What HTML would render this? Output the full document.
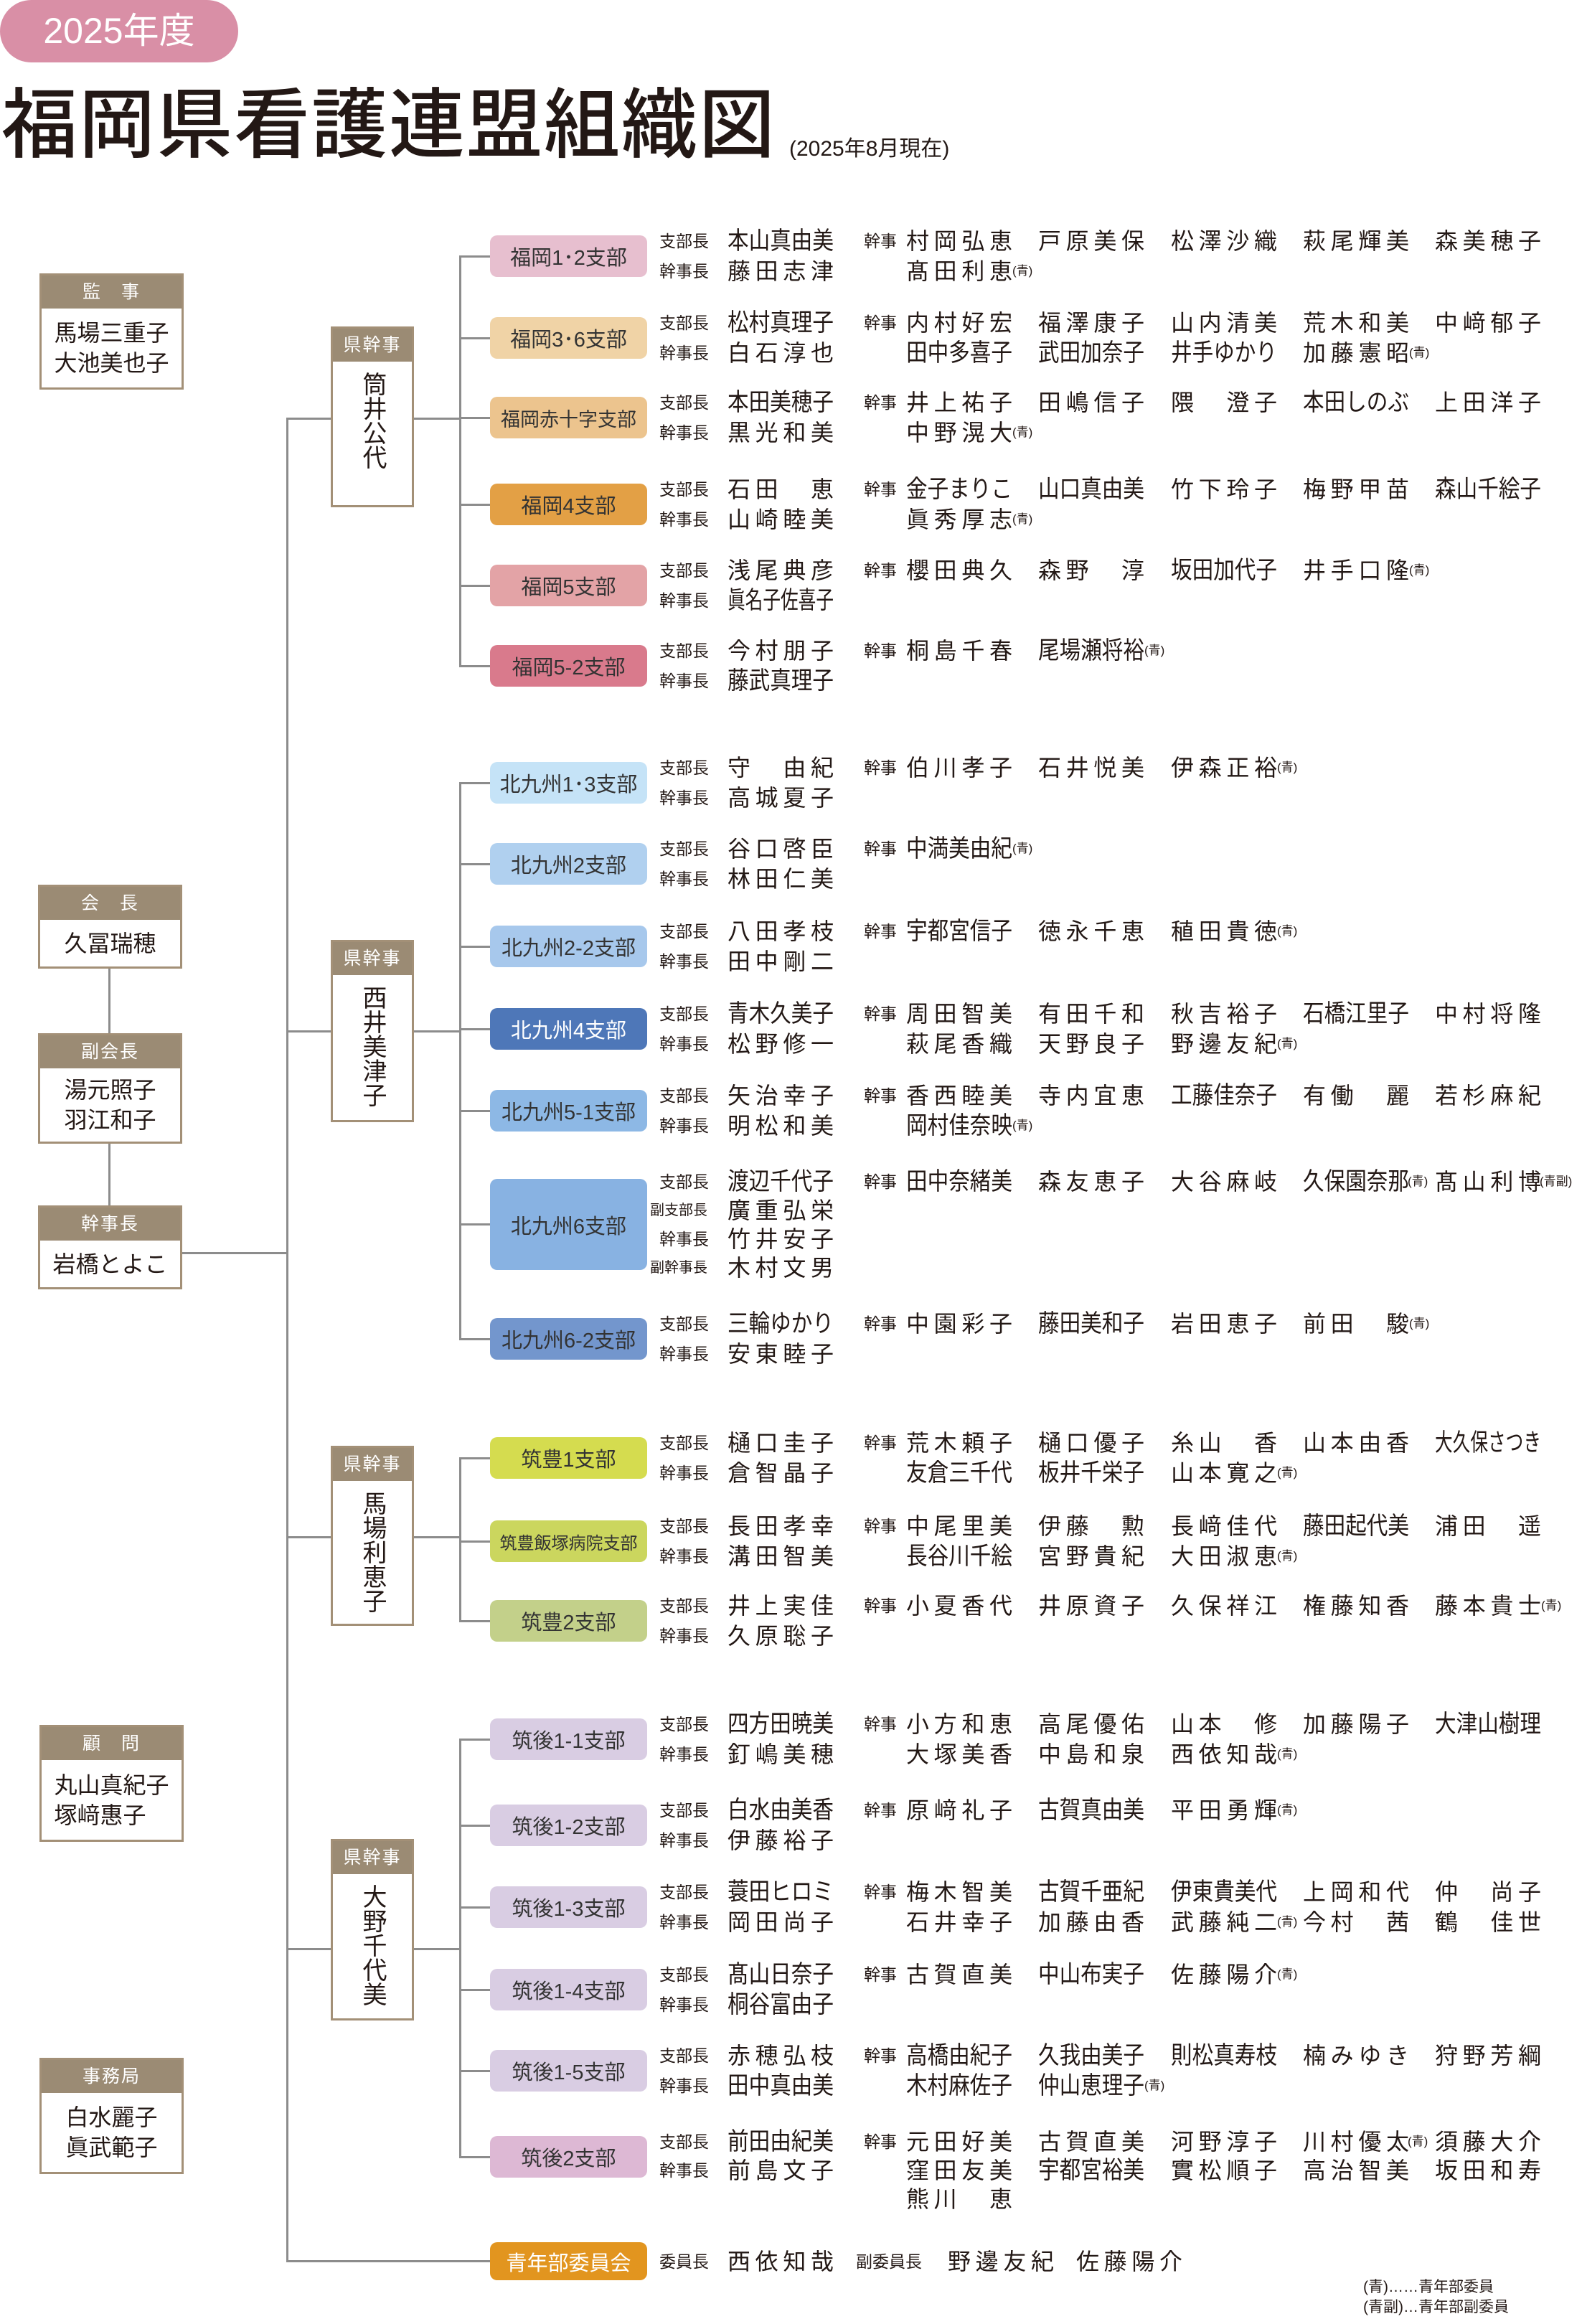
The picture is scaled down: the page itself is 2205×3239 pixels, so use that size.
<!DOCTYPE html>
<html><head><meta charset="utf-8">
<style>
*{margin:0;padding:0;box-sizing:border-box}
body{width:2205px;height:3239px;background:#fff;position:relative;overflow:hidden;font-family:"Liberation Sans","Noto Sans CJK JP",sans-serif;color:#231815}
.a{position:absolute}
.pill{left:0;top:0;width:332px;height:87px;border-radius:44px;background:#d98fa6;color:#fff;font-size:50px;line-height:87px;text-align:center}
.title{left:2px;top:120px;font-size:106px;font-weight:500;line-height:1.05;letter-spacing:2px;white-space:nowrap}
.sub{left:1100px;top:182px;font-size:30px;white-space:nowrap}
.ln{position:absolute;background:#8c8c8c}
.bx{position:absolute;border:3px solid #a39077;background:#fff}
.bx .h{background:#9b8b74;color:#fff;height:46px;line-height:46px;text-align:center;font-size:25px;letter-spacing:2px}
.bx .b{display:flex;flex-direction:column;align-items:center;justify-content:center;font-size:32px;line-height:42px}
.v{writing-mode:vertical-rl;font-size:34px;letter-spacing:0}
.br{position:absolute;left:683px;width:219px;height:58px;border-radius:10px;display:flex;align-items:center;justify-content:center;font-size:29px;color:#333;white-space:nowrap}
.r{position:absolute;left:0;width:2205px;height:42px}
.r span{position:absolute;top:0;line-height:42px;white-space:nowrap}
.lb{font-size:23px}
.a0{left:919px}.a1{left:906px;font-size:20px!important}
.k{left:1204px}
.nm{font-size:32px;width:148px;text-align:justify;text-align-last:justify}
.c0{left:1014px}.c1{left:1263px}.c2{left:1447px}.c3{left:1632px}.c4{left:1816px}.c5{left:2000px}
.q{font-size:17px}
.q1{left:1411px}.q2{left:1595px}.q3{left:1780px}.q4{left:1964px}.q5{left:2148px}
</style></head><body>
<div class="a pill">2025年度</div>
<div class="a title">福岡県看護連盟組織図</div>
<div class="a sub">(2025年8月現在)</div>

<div class="bx" style="left:55px;top:381px;width:201px;height:162px"><div class="h">監　事</div><div class="b" style="height:110px">馬場三重子<br>大池美也子</div></div>
<div class="bx" style="left:53px;top:1233px;width:201px;height:117px"><div class="h">会　長</div><div class="b" style="height:65px">久冨瑞穂</div></div>
<div class="bx" style="left:53px;top:1440px;width:201px;height:154px"><div class="h">副会長</div><div class="b" style="height:102px">湯元照子<br>羽江和子</div></div>
<div class="bx" style="left:53px;top:1680px;width:201px;height:117px"><div class="h">幹事長</div><div class="b" style="height:65px">岩橋とよこ</div></div>
<div class="bx" style="left:55px;top:2404px;width:201px;height:163px"><div class="h">顧　問</div><div class="b" style="height:111px">丸山真紀子<br>塚﨑惠子</div></div>
<div class="bx" style="left:55px;top:2868px;width:201px;height:162px"><div class="h">事務局</div><div class="b" style="height:110px">白水麗子<br>眞武範子</div></div>

<div class="ln" style="left:151px;top:1350px;width:3px;height:90px"></div>
<div class="ln" style="left:151px;top:1594px;width:3px;height:86px"></div>
<div class="ln" style="left:254px;top:1745px;width:147px;height:3px"></div>
<div class="ln" style="left:399px;top:582px;width:3px;height:2571px"></div>
<div class="ln" style="left:399px;top:3150px;width:284px;height:3px"></div>
<div class="ln" style="left:400px;top:582px;width:61px;height:3px"></div>
<div class="ln" style="left:577px;top:582px;width:65px;height:3px"></div>
<div class="ln" style="left:400px;top:1436px;width:61px;height:3px"></div>
<div class="ln" style="left:577px;top:1436px;width:65px;height:3px"></div>
<div class="ln" style="left:400px;top:2141px;width:61px;height:3px"></div>
<div class="ln" style="left:577px;top:2141px;width:65px;height:3px"></div>
<div class="ln" style="left:400px;top:2715px;width:61px;height:3px"></div>
<div class="ln" style="left:577px;top:2715px;width:65px;height:3px"></div>
<div class="ln" style="left:640px;top:356px;width:3px;height:573px"></div>
<div class="ln" style="left:640px;top:1090px;width:3px;height:777px"></div>
<div class="ln" style="left:640px;top:2031px;width:3px;height:229px"></div>
<div class="ln" style="left:640px;top:2423px;width:3px;height:584px"></div>
<div class="ln" style="left:640px;top:356px;width:43px;height:3px"></div>
<div class="ln" style="left:640px;top:470px;width:43px;height:3px"></div>
<div class="ln" style="left:640px;top:581px;width:43px;height:3px"></div>
<div class="ln" style="left:640px;top:702px;width:43px;height:3px"></div>
<div class="ln" style="left:640px;top:815px;width:43px;height:3px"></div>
<div class="ln" style="left:640px;top:927px;width:43px;height:3px"></div>
<div class="ln" style="left:640px;top:1090px;width:43px;height:3px"></div>
<div class="ln" style="left:640px;top:1203px;width:43px;height:3px"></div>
<div class="ln" style="left:640px;top:1318px;width:43px;height:3px"></div>
<div class="ln" style="left:640px;top:1433px;width:43px;height:3px"></div>
<div class="ln" style="left:640px;top:1547px;width:43px;height:3px"></div>
<div class="ln" style="left:640px;top:1705px;width:43px;height:3px"></div>
<div class="ln" style="left:640px;top:1865px;width:43px;height:3px"></div>
<div class="ln" style="left:640px;top:2031px;width:43px;height:3px"></div>
<div class="ln" style="left:640px;top:2147px;width:43px;height:3px"></div>
<div class="ln" style="left:640px;top:2258px;width:43px;height:3px"></div>
<div class="ln" style="left:640px;top:2423px;width:43px;height:3px"></div>
<div class="ln" style="left:640px;top:2543px;width:43px;height:3px"></div>
<div class="ln" style="left:640px;top:2657px;width:43px;height:3px"></div>
<div class="ln" style="left:640px;top:2772px;width:43px;height:3px"></div>
<div class="ln" style="left:640px;top:2885px;width:43px;height:3px"></div>
<div class="ln" style="left:640px;top:3005px;width:43px;height:3px"></div>

<div class="bx" style="left:461px;top:455px;width:116px;height:252px"><div class="h">県幹事</div><div class="b" style="height:200px;justify-content:flex-start;padding-top:14px"><span class="v">筒井公代</span></div></div>
<div class="bx" style="left:461px;top:1310px;width:116px;height:254px"><div class="h">県幹事</div><div class="b" style="height:202px;justify-content:flex-start;padding-top:14px"><span class="v">西井美津子</span></div></div>
<div class="bx" style="left:461px;top:2015px;width:116px;height:251px"><div class="h">県幹事</div><div class="b" style="height:199px;justify-content:flex-start;padding-top:14px"><span class="v">馬場利恵子</span></div></div>
<div class="bx" style="left:461px;top:2563px;width:116px;height:253px"><div class="h">県幹事</div><div class="b" style="height:201px;justify-content:flex-start;padding-top:14px"><span class="v">大野千代美</span></div></div>

<div class="br" style="top:328px;background:#e7bfcf">福岡1･2支部</div>
<div class="br" style="top:442px;background:#f0d3a6">福岡3･6支部</div>
<div class="br" style="top:553px;background:#ecc48e;font-size:27px">福岡赤十字支部</div>
<div class="br" style="top:674px;background:#e3a045">福岡4支部</div>
<div class="br" style="top:787px;background:#e3a3a6">福岡5支部</div>
<div class="br" style="top:899px;background:#d97a8c">福岡5-2支部</div>
<div class="br" style="top:1062px;background:#c5e3f7">北九州1･3支部</div>
<div class="br" style="top:1175px;background:#b0d0ef">北九州2支部</div>
<div class="br" style="top:1290px;background:#a7c8ec">北九州2-2支部</div>
<div class="br" style="top:1405px;background:#4e77b8;color:#fff">北九州4支部</div>
<div class="br" style="top:1519px;background:#8db8e5">北九州5-1支部</div>
<div class="br" style="top:1643px;height:127px;background:#88b2e2">北九州6支部</div>
<div class="br" style="top:1837px;background:#7396cd">北九州6-2支部</div>
<div class="br" style="top:2003px;background:#d5dc4f">筑豊1支部</div>
<div class="br" style="top:2119px;background:#cbd65e;font-size:24px">筑豊飯塚病院支部</div>
<div class="br" style="top:2230px;background:#c3d08a">筑豊2支部</div>
<div class="br" style="top:2395px;background:#d9cde3">筑後1-1支部</div>
<div class="br" style="top:2515px;background:#d9cde3">筑後1-2支部</div>
<div class="br" style="top:2629px;background:#d9cde3">筑後1-3支部</div>
<div class="br" style="top:2744px;background:#d9cde3">筑後1-4支部</div>
<div class="br" style="top:2857px;background:#d9cde3">筑後1-5支部</div>
<div class="br" style="top:2977px;background:#ddb8d4">筑後2支部</div>
<div class="br" style="top:3125px;height:53px;background:#e2951f;color:#fff">青年部委員会</div>

<div class="r" style="top:315px"><span class="lb a0">支部長</span><span class="nm c0">本山真由美</span><span class="lb k">幹事</span><span class="nm c1">村岡弘恵</span><span class="nm c2">戸原美保</span><span class="nm c3">松澤沙織</span><span class="nm c4">萩尾輝美</span><span class="nm c5">森美穂子</span></div>
<div class="r" style="top:357px"><span class="lb a0">幹事長</span><span class="nm c0">藤田志津</span><span class="nm c1">髙田利恵</span><span class="q q1">(青)</span></div>

<div class="r" style="top:429px"><span class="lb a0">支部長</span><span class="nm c0">松村真理子</span><span class="lb k">幹事</span><span class="nm c1">内村好宏</span><span class="nm c2">福澤康子</span><span class="nm c3">山内清美</span><span class="nm c4">荒木和美</span><span class="nm c5">中﨑郁子</span></div>
<div class="r" style="top:471px"><span class="lb a0">幹事長</span><span class="nm c0">白石淳也</span><span class="nm c1">田中多喜子</span><span class="nm c2">武田加奈子</span><span class="nm c3">井手ゆかり</span><span class="nm c4">加藤憲昭</span><span class="q q4">(青)</span></div>

<div class="r" style="top:540px"><span class="lb a0">支部長</span><span class="nm c0">本田美穂子</span><span class="lb k">幹事</span><span class="nm c1">井上祐子</span><span class="nm c2">田嶋信子</span><span class="nm c3">隈　澄子</span><span class="nm c4">本田しのぶ</span><span class="nm c5">上田洋子</span></div>
<div class="r" style="top:582px"><span class="lb a0">幹事長</span><span class="nm c0">黒光和美</span><span class="nm c1">中野滉大</span><span class="q q1">(青)</span></div>

<div class="r" style="top:661px"><span class="lb a0">支部長</span><span class="nm c0">石田　恵</span><span class="lb k">幹事</span><span class="nm c1">金子まりこ</span><span class="nm c2">山口真由美</span><span class="nm c3">竹下玲子</span><span class="nm c4">梅野甲苗</span><span class="nm c5">森山千絵子</span></div>
<div class="r" style="top:703px"><span class="lb a0">幹事長</span><span class="nm c0">山崎睦美</span><span class="nm c1">眞秀厚志</span><span class="q q1">(青)</span></div>

<div class="r" style="top:774px"><span class="lb a0">支部長</span><span class="nm c0">浅尾典彦</span><span class="lb k">幹事</span><span class="nm c1">櫻田典久</span><span class="nm c2">森野　淳</span><span class="nm c3">坂田加代子</span><span class="nm c4">井手口隆</span><span class="q q4">(青)</span></div>
<div class="r" style="top:816px"><span class="lb a0">幹事長</span><span class="nm c0">眞名子佐喜子</span></div>

<div class="r" style="top:886px"><span class="lb a0">支部長</span><span class="nm c0">今村朋子</span><span class="lb k">幹事</span><span class="nm c1">桐島千春</span><span class="nm c2">尾場瀬将裕</span><span class="q q2">(青)</span></div>
<div class="r" style="top:928px"><span class="lb a0">幹事長</span><span class="nm c0">藤武真理子</span></div>

<div class="r" style="top:1049px"><span class="lb a0">支部長</span><span class="nm c0">守　由紀</span><span class="lb k">幹事</span><span class="nm c1">伯川孝子</span><span class="nm c2">石井悦美</span><span class="nm c3">伊森正裕</span><span class="q q3">(青)</span></div>
<div class="r" style="top:1091px"><span class="lb a0">幹事長</span><span class="nm c0">高城夏子</span></div>

<div class="r" style="top:1162px"><span class="lb a0">支部長</span><span class="nm c0">谷口啓臣</span><span class="lb k">幹事</span><span class="nm c1">中満美由紀</span><span class="q q1">(青)</span></div>
<div class="r" style="top:1204px"><span class="lb a0">幹事長</span><span class="nm c0">林田仁美</span></div>

<div class="r" style="top:1277px"><span class="lb a0">支部長</span><span class="nm c0">八田孝枝</span><span class="lb k">幹事</span><span class="nm c1">宇都宮信子</span><span class="nm c2">徳永千恵</span><span class="nm c3">稙田貴徳</span><span class="q q3">(青)</span></div>
<div class="r" style="top:1319px"><span class="lb a0">幹事長</span><span class="nm c0">田中剛二</span></div>

<div class="r" style="top:1392px"><span class="lb a0">支部長</span><span class="nm c0">青木久美子</span><span class="lb k">幹事</span><span class="nm c1">周田智美</span><span class="nm c2">有田千和</span><span class="nm c3">秋吉裕子</span><span class="nm c4">石橋江里子</span><span class="nm c5">中村将隆</span></div>
<div class="r" style="top:1434px"><span class="lb a0">幹事長</span><span class="nm c0">松野修一</span><span class="nm c1">萩尾香織</span><span class="nm c2">天野良子</span><span class="nm c3">野邊友紀</span><span class="q q3">(青)</span></div>

<div class="r" style="top:1506px"><span class="lb a0">支部長</span><span class="nm c0">矢治幸子</span><span class="lb k">幹事</span><span class="nm c1">香西睦美</span><span class="nm c2">寺内宜恵</span><span class="nm c3">工藤佳奈子</span><span class="nm c4">有働　麗</span><span class="nm c5">若杉麻紀</span></div>
<div class="r" style="top:1548px"><span class="lb a0">幹事長</span><span class="nm c0">明松和美</span><span class="nm c1">岡村佳奈映</span><span class="q q1">(青)</span></div>

<div class="r" style="top:1626px"><span class="lb a0">支部長</span><span class="nm c0">渡辺千代子</span><span class="lb k">幹事</span><span class="nm c1">田中奈緒美</span><span class="nm c2">森友恵子</span><span class="nm c3">大谷麻岐</span><span class="nm c4">久保園奈那</span><span class="q" style="left:1962px">(青)</span><span class="nm c5">髙山利博</span><span class="q" style="left:2146px">(青副)</span></div>
<div class="r" style="top:1666px"><span class="lb a1">副支部長</span><span class="nm c0">廣重弘栄</span></div>
<div class="r" style="top:1706px"><span class="lb a0">幹事長</span><span class="nm c0">竹井安子</span></div>
<div class="r" style="top:1746px"><span class="lb a1">副幹事長</span><span class="nm c0">木村文男</span></div>

<div class="r" style="top:1824px"><span class="lb a0">支部長</span><span class="nm c0">三輪ゆかり</span><span class="lb k">幹事</span><span class="nm c1">中園彩子</span><span class="nm c2">藤田美和子</span><span class="nm c3">岩田恵子</span><span class="nm c4">前田　駿</span><span class="q q4">(青)</span></div>
<div class="r" style="top:1866px"><span class="lb a0">幹事長</span><span class="nm c0">安東睦子</span></div>

<div class="r" style="top:1990px"><span class="lb a0">支部長</span><span class="nm c0">樋口圭子</span><span class="lb k">幹事</span><span class="nm c1">荒木頼子</span><span class="nm c2">樋口優子</span><span class="nm c3">糸山　香</span><span class="nm c4">山本由香</span><span class="nm c5">大久保さつき</span></div>
<div class="r" style="top:2032px"><span class="lb a0">幹事長</span><span class="nm c0">倉智晶子</span><span class="nm c1">友倉三千代</span><span class="nm c2">板井千栄子</span><span class="nm c3">山本寛之</span><span class="q q3">(青)</span></div>

<div class="r" style="top:2106px"><span class="lb a0">支部長</span><span class="nm c0">長田孝幸</span><span class="lb k">幹事</span><span class="nm c1">中尾里美</span><span class="nm c2">伊藤　勲</span><span class="nm c3">長﨑佳代</span><span class="nm c4">藤田起代美</span><span class="nm c5">浦田　遥</span></div>
<div class="r" style="top:2148px"><span class="lb a0">幹事長</span><span class="nm c0">溝田智美</span><span class="nm c1">長谷川千絵</span><span class="nm c2">宮野貴紀</span><span class="nm c3">大田淑恵</span><span class="q q3">(青)</span></div>

<div class="r" style="top:2217px"><span class="lb a0">支部長</span><span class="nm c0">井上実佳</span><span class="lb k">幹事</span><span class="nm c1">小夏香代</span><span class="nm c2">井原資子</span><span class="nm c3">久保祥江</span><span class="nm c4">権藤知香</span><span class="nm c5">藤本貴士</span><span class="q q5">(青)</span></div>
<div class="r" style="top:2259px"><span class="lb a0">幹事長</span><span class="nm c0">久原聡子</span></div>

<div class="r" style="top:2382px"><span class="lb a0">支部長</span><span class="nm c0">四方田暁美</span><span class="lb k">幹事</span><span class="nm c1">小方和恵</span><span class="nm c2">高尾優佑</span><span class="nm c3">山本　修</span><span class="nm c4">加藤陽子</span><span class="nm c5">大津山樹理</span></div>
<div class="r" style="top:2424px"><span class="lb a0">幹事長</span><span class="nm c0">釘嶋美穂</span><span class="nm c1">大塚美香</span><span class="nm c2">中島和泉</span><span class="nm c3">西依知哉</span><span class="q q3">(青)</span></div>

<div class="r" style="top:2502px"><span class="lb a0">支部長</span><span class="nm c0">白水由美香</span><span class="lb k">幹事</span><span class="nm c1">原﨑礼子</span><span class="nm c2">古賀真由美</span><span class="nm c3">平田勇輝</span><span class="q q3">(青)</span></div>
<div class="r" style="top:2544px"><span class="lb a0">幹事長</span><span class="nm c0">伊藤裕子</span></div>

<div class="r" style="top:2616px"><span class="lb a0">支部長</span><span class="nm c0">蓑田ヒロミ</span><span class="lb k">幹事</span><span class="nm c1">梅木智美</span><span class="nm c2">古賀千亜紀</span><span class="nm c3">伊東貴美代</span><span class="nm c4">上岡和代</span><span class="nm c5">仲　尚子</span></div>
<div class="r" style="top:2658px"><span class="lb a0">幹事長</span><span class="nm c0">岡田尚子</span><span class="nm c1">石井幸子</span><span class="nm c2">加藤由香</span><span class="nm c3">武藤純二</span><span class="q q3">(青)</span><span class="nm c4">今村　茜</span><span class="nm c5">鶴　佳世</span></div>

<div class="r" style="top:2731px"><span class="lb a0">支部長</span><span class="nm c0">髙山日奈子</span><span class="lb k">幹事</span><span class="nm c1">古賀直美</span><span class="nm c2">中山布実子</span><span class="nm c3">佐藤陽介</span><span class="q q3">(青)</span></div>
<div class="r" style="top:2773px"><span class="lb a0">幹事長</span><span class="nm c0">桐谷富由子</span></div>

<div class="r" style="top:2844px"><span class="lb a0">支部長</span><span class="nm c0">赤穂弘枝</span><span class="lb k">幹事</span><span class="nm c1">高橋由紀子</span><span class="nm c2">久我由美子</span><span class="nm c3">則松真寿枝</span><span class="nm c4">楠みゆき</span><span class="nm c5">狩野芳綱</span></div>
<div class="r" style="top:2886px"><span class="lb a0">幹事長</span><span class="nm c0">田中真由美</span><span class="nm c1">木村麻佐子</span><span class="nm c2">仲山恵理子</span><span class="q q2">(青)</span></div>

<div class="r" style="top:2964px"><span class="lb a0">支部長</span><span class="nm c0">前田由紀美</span><span class="lb k">幹事</span><span class="nm c1">元田好美</span><span class="nm c2">古賀直美</span><span class="nm c3">河野淳子</span><span class="nm c4">川村優太</span><span class="q" style="left:1962px">(青)</span><span class="nm c5">須藤大介</span></div>
<div class="r" style="top:3004px"><span class="lb a0">幹事長</span><span class="nm c0">前島文子</span><span class="nm c1">窪田友美</span><span class="nm c2">宇都宮裕美</span><span class="nm c3">實松順子</span><span class="nm c4">高治智美</span><span class="nm c5">坂田和寿</span></div>
<div class="r" style="top:3044px"><span class="nm c1">熊川　恵</span></div>

<div class="r" style="top:3131px"><span class="lb a0">委員長</span><span class="nm c0">西依知哉</span><span class="lb" style="left:1193px">副委員長</span><span class="nm" style="left:1321px">野邊友紀</span><span class="nm" style="left:1500px">佐藤陽介</span></div>

<div class="a" style="left:1900px;top:3174px;font-size:21px;line-height:28px;white-space:nowrap">(青)……青年部委員<br>(青副)…青年部副委員</div>
<script>
document.querySelectorAll('.nm').forEach(function(e){var n=Array.from(e.textContent).length;if(n>=5){var w=n*34;e.style.fontSize='34px';e.style.width=w+'px';e.style.textAlignLast='auto';e.style.textAlign='left';e.style.transformOrigin='0 50%';e.style.transform='scaleX('+(148/w)+')';}});
</script>
</body></html>
